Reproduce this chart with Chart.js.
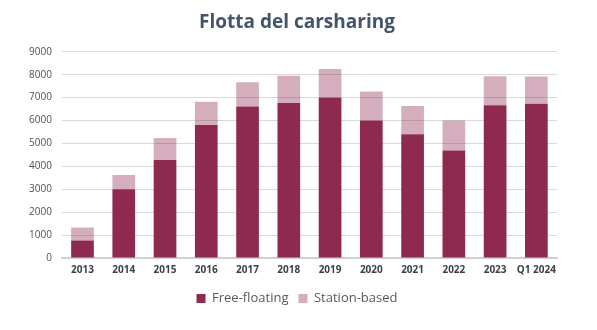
<!DOCTYPE html>
<html>
<head>
<meta charset="utf-8">
<script src="https://cdn.jsdelivr.net/npm/chart.js@4/dist/chart.umd.min.js"></script>
<style>
  html, body { margin: 0; padding: 0; background: #ffffff; }
  #wrap { width: 597px; height: 330px; }
</style>
</head>
<body>
<div id="wrap"><canvas id="fleet"></canvas></div>
<script>
// Years on the x axis
const years = ['2013', '2014', '2015', '2016', '2017', '2018', '2019', '2020', '2021', '2022', '2023', 'Q1 2024'];

// Vehicles per service type (stacked)
const freeFloating  = [760, 3000, 4280, 5800, 6610, 6770, 7000, 6000, 5400, 4690, 6670, 6730];
const stationBased  = [570,  620,  960, 1020, 1060, 1180, 1250, 1270, 1230, 1310, 1260, 1190];

const yTicks = [0, 1000, 2000, 3000, 4000, 5000, 6000, 7000, 8000, 9000];

Chart.defaults.font.family = '"Open Sans", "Noto Sans", sans-serif';

const ctx = document.getElementById('fleet').getContext('2d');
new Chart(ctx, {
    type: 'bar',
    data: {
        labels: years,
        datasets: [
            {
                label: 'Free-floating',
                data: freeFloating,
                backgroundColor: '#8e2a4f',
                barPercentage: 0.55,
                categoryPercentage: 1,
            },
            {
                label: 'Station-based',
                data: stationBased,
                backgroundColor: 'rgba(142, 42, 79, 0.38)', // translucent so the grid shows through
                barPercentage: 0.55,
                categoryPercentage: 1,
            },
        ],
    },
    options: {
        responsive: true,
        maintainAspectRatio: false,
        animation: false,
        layout: {
            padding: { left: 19, right: 22, top: 0, bottom: 15 },
        },
        plugins: {
            title: {
                display: true,
                text: 'Flotta del carsharing',
                color: '#44546a',
                font: { size: 19, weight: 'bold' },
                padding: { top: 11, bottom: 18 },
            },
            legend: {
                position: 'bottom',
                labels: {
                    color: '#595959',
                    font: { size: 13 },
                    boxWidth: 9,
                    boxHeight: 9,
                    padding: 10,
                },
            },
            tooltip: { enabled: false },
        },
        scales: {
            x: {
                stacked: true,
                grid: { display: false, drawTicks: false },
                border: { display: true, color: '#d0d0d0', width: 2 },
                ticks: {
                    color: '#3a3f4a',
                    font: { size: 10, weight: 'bold' },
                    padding: 6,
                    maxRotation: 0,
                    autoSkip: false,
                },
            },
            y: {
                stacked: true,
                min: 0,
                max: 9000,
                afterBuildTicks: axis => { axis.ticks = yTicks.map(v => ({ value: v })); },
                grid: { color: '#d9d9d9', lineWidth: 1, drawTicks: false },
                border: { display: false },
                ticks: {
                    color: '#505050',
                    font: { size: 10 },
                    padding: 10,
                    callback: value => String(value),
                },
            },
            // empty right-hand gutter so the plot ends short of the title's centre line
            gutter: {
                position: 'right',
                min: 0,
                max: 9000,
                grid: { drawOnChartArea: false, drawTicks: false },
                border: { display: false },
                ticks: { display: false },
                afterFit: axis => { axis.width = 18; },
            },
        },
    },
});
</script>
</body>
</html>
